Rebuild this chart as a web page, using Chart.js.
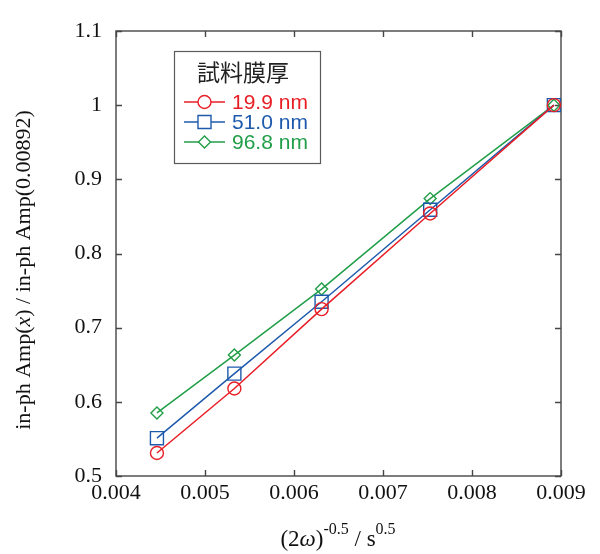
<!DOCTYPE html>
<html>
<head>
<meta charset="utf-8">
<script src="https://cdn.jsdelivr.net/npm/chart.js@4/dist/chart.umd.min.js"></script>
<style>
html,body{margin:0;padding:0;background:#fff;}
#c{display:block;}
</style>
</head>
<body>
<canvas id="c" width="600" height="554"></canvas>
<script>
// ---- data ----
const xValues = [0.00446, 0.00533, 0.00631, 0.00753, 0.00892];
const series199 = [0.531, 0.618, 0.725, 0.854, 1.0];
const series510 = [0.551, 0.638, 0.735, 0.859, 1.0];
const series968 = [0.585, 0.663, 0.752, 0.874, 1.0];
const seriesLabels = ['19.9 nm', '51.0 nm', '96.8 nm'];
const legendTitle = '試料膜厚';
const xTickLabels = ['0.004', '0.005', '0.006', '0.007', '0.008', '0.009'];
const yTickLabels = ['0.5', '0.6', '0.7', '0.8', '0.9', '1', '1.1'];

const RED = 'rgb(232,30,38)', BLUE = 'rgb(30,90,172)', GREEN = 'rgb(34,158,72)';
const SERIF = '"Liberation Serif", "Times New Roman", serif';
const SANS = '"Liberation Sans", Arial, sans-serif';

function pts(ys){ return xValues.map((x,i)=>({x:x, y:ys[i]})); }

const datasets = [
  {label: seriesLabels[0], data: pts(series199), borderColor: RED, pointStyle:'circle', pointRadius:6.5},
  {label: seriesLabels[1], data: pts(series510), borderColor: BLUE, pointStyle:'rect', pointRadius:9.2},
  {label: seriesLabels[2], data: pts(series968), borderColor: GREEN, pointStyle:'rectRot', pointRadius:6}
].map(d=>Object.assign(d, {
  backgroundColor:'rgba(0,0,0,0)', pointBackgroundColor:'rgba(0,0,0,0)',
  pointBorderColor:d.borderColor, borderWidth:1.5, pointBorderWidth:1.4,
  pointHoverRadius:d.pointRadius, tension:0, fill:false
}));

function drawMarker(ctx, style, r, x, y, color){
  ctx.save();
  ctx.strokeStyle = color; ctx.lineWidth = 1.4;
  ctx.beginPath();
  if (style==='circle'){ ctx.arc(x,y,r,0,Math.PI*2); }
  else if (style==='rect'){ const s=r*Math.SQRT1_2; ctx.rect(x-s,y-s,2*s,2*s); }
  else { ctx.moveTo(x,y-r); ctx.lineTo(x+r,y); ctx.lineTo(x,y+r); ctx.lineTo(x-r,y); ctx.closePath(); }
  ctx.fillStyle='#fff'; ctx.fill(); ctx.stroke();
  ctx.restore();
}

const framePlugin = {
  id:'frame',
  beforeDatasetsDraw(chart){
    const {ctx, chartArea:a, scales:{x, y}} = chart;
    ctx.save();
    ctx.strokeStyle = 'rgb(70,70,70)';
    ctx.lineWidth = 1.4;
    ctx.strokeRect(a.left, a.top, a.right-a.left, a.bottom-a.top);
    const TL = 6;
    ctx.beginPath();
    x.ticks.forEach(t=>{
      const px = Math.round(x.getPixelForValue(t.value))+0.5;
      ctx.moveTo(px, a.bottom); ctx.lineTo(px, a.bottom-TL);
      ctx.moveTo(px, a.top); ctx.lineTo(px, a.top+TL);
    });
    y.ticks.forEach(t=>{
      const py = Math.round(y.getPixelForValue(t.value))+0.5;
      ctx.moveTo(a.left, py); ctx.lineTo(a.left+TL, py);
      ctx.moveTo(a.right, py); ctx.lineTo(a.right-TL, py);
    });
    ctx.stroke();
    ctx.restore();
  },
  afterDraw(chart){
    const ctx = chart.ctx;
    ctx.save();
    // x title: (2ω)^-0.5 / s^0.5
    const parts = [
      {t:'(2', f:'23px '+SERIF, dy:0},
      {t:'ω', f:'italic 23px '+SERIF, dy:0},
      {t:')', f:'23px '+SERIF, dy:0},
      {t:'-0.5', f:'16px '+SERIF, dy:-12},
      {t:' / s', f:'23px '+SERIF, dy:0},
      {t:'0.5', f:'16px '+SERIF, dy:-12}
    ];
    let w = 0;
    parts.forEach(p=>{ ctx.font=p.f; w += ctx.measureText(p.t).width; });
    let xx = 338 - w/2;
    ctx.fillStyle = '#111'; ctx.textBaseline='alphabetic'; ctx.textAlign='left';
    parts.forEach(p=>{ ctx.font=p.f; ctx.fillText(p.t, xx, 546+p.dy); xx += ctx.measureText(p.t).width; });

    // y title
    const yparts = [
      {t:'in-ph Amp(', f:'22px '+SERIF},
      {t:'x', f:'italic 22px '+SERIF},
      {t:') / in-ph Amp(0.00892)', f:'22px '+SERIF}
    ];
    ctx.translate(30, 270);
    ctx.rotate(-Math.PI/2);
    let wy = 0;
    yparts.forEach(p=>{ ctx.font=p.f; wy += ctx.measureText(p.t).width; });
    let yy = -wy/2;
    yparts.forEach(p=>{ ctx.font=p.f; ctx.fillText(p.t, yy, 0); yy += ctx.measureText(p.t).width; });
    ctx.restore();

    // legend
    ctx.save();
    const L = {x:174, y:51, w:146, h:112};
    ctx.fillStyle='#fff';
    ctx.fillRect(L.x, L.y, L.w, L.h);
    ctx.strokeStyle='rgb(90,90,90)'; ctx.lineWidth=1.2;
    ctx.strokeRect(L.x+0.5, L.y+0.5, L.w, L.h);
    ctx.fillStyle='#222';
    ctx.font='23px "Noto Sans CJK JP", sans-serif';
    ctx.textAlign='center'; ctx.textBaseline='middle';
    ctx.fillText(legendTitle, 243, 72);
    chart.data.datasets.forEach((d,i)=>{
      const cy = 102 + i*20;
      ctx.strokeStyle = d.borderColor; ctx.lineWidth = 1.5;
      ctx.beginPath(); ctx.moveTo(184, cy); ctx.lineTo(225, cy); ctx.stroke();
      drawMarker(ctx, d.pointStyle, d.pointRadius, 204.5, cy, d.borderColor);
      ctx.fillStyle = d.borderColor;
      ctx.font = '21px '+SANS;
      ctx.textAlign='left'; ctx.textBaseline='middle';
      ctx.fillText(d.label, 232, cy+1);
    });
    ctx.restore();
  }
};

new Chart(document.getElementById('c'), {
  type:'line',
  data:{datasets},
  options:{
    responsive:false,
    devicePixelRatio:1,
    animation:false,
    events:[],
    layout:{padding:{top:31, right:39, left:0, bottom:0}},
    plugins:{legend:{display:false}, tooltip:{enabled:false}},
    scales:{
      x:{
        type:'linear', min:0.004, max:0.009,
        afterBuildTicks(s){ s.ticks = xTickLabels.map(v=>({value:parseFloat(v)})); },
        ticks:{
          callback:(v,i)=>xTickLabels[i],
          font:{family:SERIF, size:22}, color:'#111', padding:4, maxRotation:0, autoSkip:false
        },
        grid:{display:false, drawTicks:false},
        border:{display:false},
        afterFit(s){ s.height = 78; }
      },
      y:{
        type:'linear', min:0.5, max:1.1,
        afterBuildTicks(s){ s.ticks = yTickLabels.map(v=>({value:parseFloat(v)})); },
        ticks:{
          callback:(v,i)=>yTickLabels[i],
          font:{family:SERIF, size:22}, color:'#111', padding:14, autoSkip:false
        },
        grid:{display:false, drawTicks:false},
        border:{display:false},
        afterFit(s){ s.width = 116; }
      }
    }
  },
  plugins:[framePlugin]
});
</script>
</body>
</html>
